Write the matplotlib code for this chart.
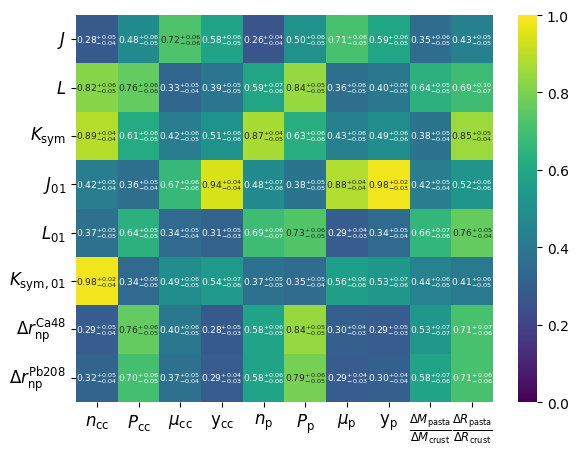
import numpy as np
import matplotlib
matplotlib.use("Agg")
import matplotlib.pyplot as plt
import seaborn as sns

# rows: nuclear matter parameters, columns: crust / pasta observables
row_labels = [r"$J$", r"$L$", r"$K_{\rm sym}$", r"$J_{01}$", r"$L_{01}$",
              r"$K_{\rm sym,01}$", r"$\Delta r_{\rm np}^{\rm Ca48}$",
              r"$\Delta r_{\rm np}^{\rm Pb208}$"]
col_labels = [r"$n_{\rm cc}$", r"$P_{\rm cc}$", r"$\mu_{\rm cc}$", r"y$_{\rm cc}$",
              r"$n_{\rm p}$", r"$P_{\rm p}$", r"$\mu_{\rm p}$", r"y$_{\rm p}$",
              r"$\frac{\Delta M_{\rm pasta}}{\Delta M_{\rm crust}}$",
              r"$\frac{\Delta R_{\rm pasta}}{\Delta R_{\rm crust}}$"]

corr = np.array([
    [0.28, 0.48, 0.72, 0.58, 0.26, 0.50, 0.71, 0.59, 0.35, 0.43],
    [0.82, 0.76, 0.33, 0.39, 0.59, 0.84, 0.36, 0.40, 0.64, 0.69],
    [0.89, 0.61, 0.42, 0.51, 0.87, 0.63, 0.43, 0.49, 0.38, 0.85],
    [0.42, 0.36, 0.67, 0.94, 0.48, 0.38, 0.88, 0.98, 0.42, 0.52],
    [0.37, 0.64, 0.34, 0.31, 0.69, 0.73, 0.29, 0.34, 0.66, 0.76],
    [0.98, 0.34, 0.49, 0.54, 0.37, 0.35, 0.56, 0.53, 0.44, 0.41],
    [0.29, 0.76, 0.40, 0.28, 0.58, 0.84, 0.30, 0.29, 0.53, 0.71],
    [0.32, 0.70, 0.37, 0.29, 0.58, 0.79, 0.29, 0.30, 0.58, 0.71],
])
err_up = np.array([
    [0.05, 0.06, 0.06, 0.06, 0.04, 0.06, 0.06, 0.06, 0.06, 0.05],
    [0.06, 0.06, 0.05, 0.05, 0.07, 0.05, 0.06, 0.06, 0.05, 0.10],
    [0.04, 0.06, 0.06, 0.06, 0.04, 0.06, 0.06, 0.06, 0.05, 0.05],
    [0.05, 0.05, 0.06, 0.04, 0.07, 0.05, 0.04, 0.02, 0.05, 0.06],
    [0.05, 0.05, 0.05, 0.05, 0.06, 0.06, 0.04, 0.05, 0.07, 0.05],
    [0.02, 0.06, 0.06, 0.07, 0.05, 0.05, 0.06, 0.07, 0.06, 0.06],
    [0.05, 0.06, 0.06, 0.05, 0.06, 0.05, 0.04, 0.05, 0.07, 0.07],
    [0.05, 0.06, 0.05, 0.04, 0.06, 0.06, 0.04, 0.04, 0.07, 0.06],
])
err_lo = np.array([
    [0.04, 0.05, 0.06, 0.05, 0.04, 0.05, 0.05, 0.05, 0.05, 0.05],
    [0.05, 0.06, 0.04, 0.05, 0.06, 0.05, 0.05, 0.05, 0.05, 0.07],
    [0.04, 0.05, 0.05, 0.06, 0.05, 0.06, 0.05, 0.06, 0.04, 0.04],
    [0.04, 0.04, 0.06, 0.04, 0.06, 0.05, 0.04, 0.03, 0.04, 0.06],
    [0.05, 0.05, 0.04, 0.03, 0.07, 0.05, 0.03, 0.04, 0.06, 0.04],
    [0.04, 0.05, 0.05, 0.06, 0.05, 0.04, 0.06, 0.06, 0.05, 0.05],
    [0.04, 0.05, 0.05, 0.03, 0.05, 0.05, 0.03, 0.03, 0.07, 0.06],
    [0.04, 0.05, 0.04, 0.03, 0.06, 0.05, 0.03, 0.04, 0.06, 0.06],
])

fig = plt.figure(figsize=(5.82, 4.52), dpi=100)
ax = fig.add_axes([0.1306, 0.1084, 0.7164, 0.8562])
cax = fig.add_axes([0.890, 0.1084, 0.0326, 0.8562])

sns.heatmap(corr, ax=ax, cbar_ax=cax, cmap="viridis", vmin=0, vmax=1,
            annot=False, xticklabels=col_labels, yticklabels=row_labels)

# value with asymmetric errors in each cell
for i in range(corr.shape[0]):
    for j in range(corr.shape[1]):
        txt = (f"{corr[i, j]:.2f}$^{{+{err_up[i, j]:.2f}}}"
               f"_{{-{err_lo[i, j]:.2f}}}$")
        col = ".15" if corr[i, j] >= 0.715 else "w"
        ax.text(j + 0.5, i + 0.5, txt, ha="center", va="center",
                fontsize=6.6, color=col)

ax.tick_params(axis="x", labelsize=12, rotation=0)
ax.tick_params(axis="y", labelsize=12, rotation=0)
cax.tick_params(labelsize=10)
cax.set_yticks([0, 0.2, 0.4, 0.6, 0.8, 1.0])

fig.savefig("out.png", dpi=100)
